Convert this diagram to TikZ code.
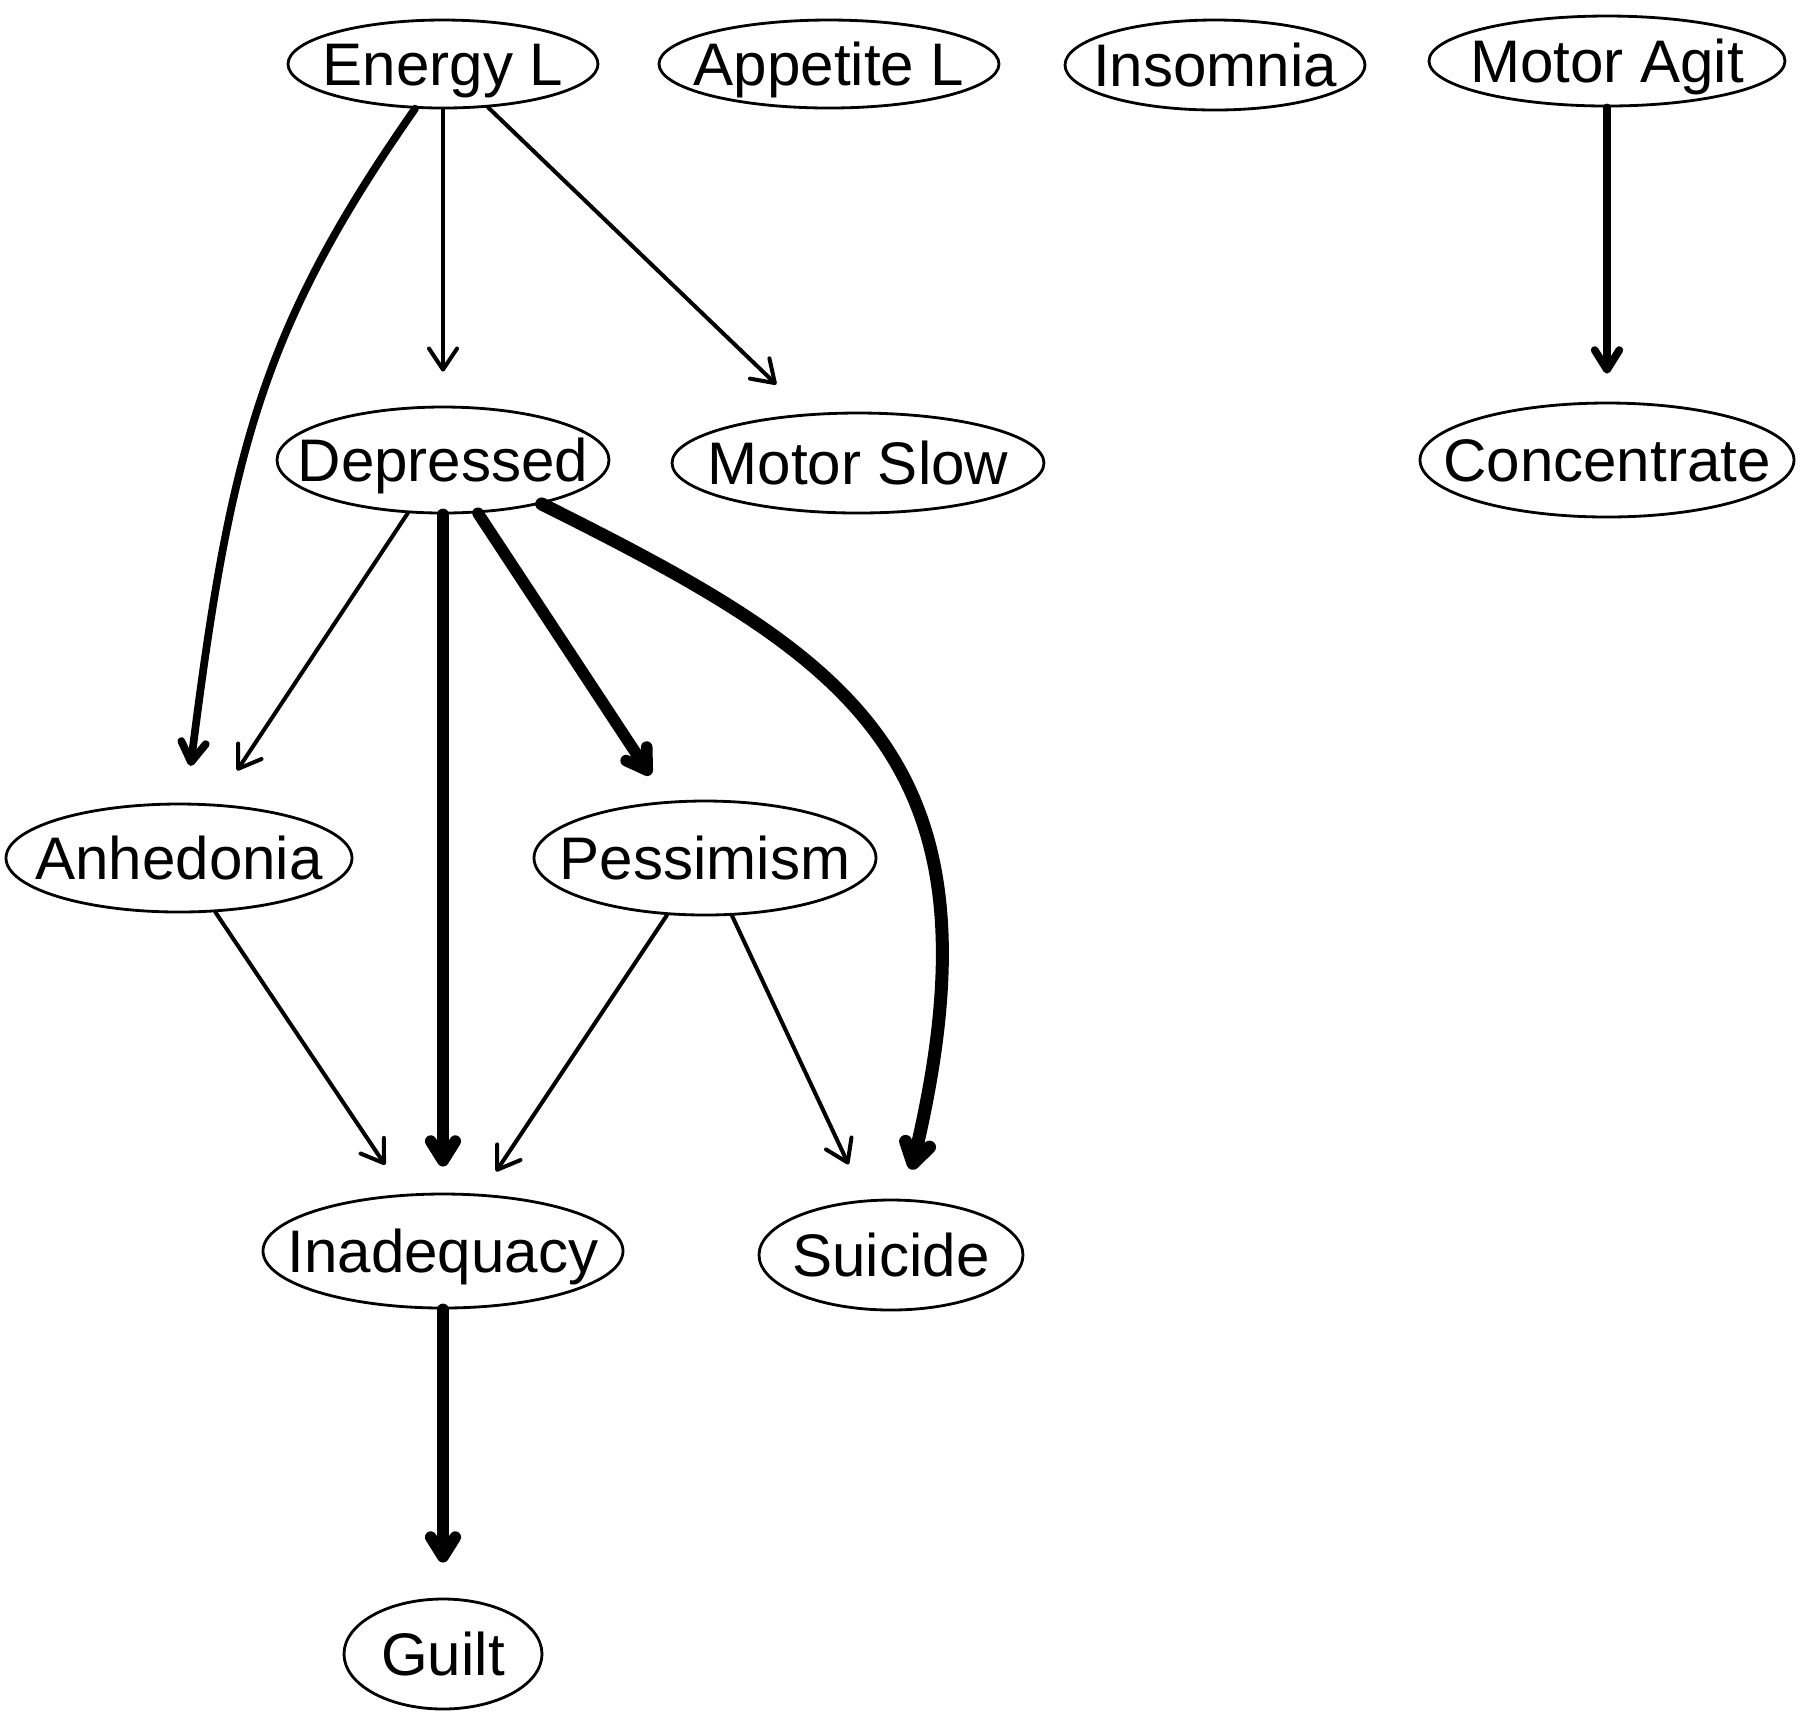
\documentclass[tikz,border=0pt]{standalone}
\usepackage{fontspec}
\setmainfont{Liberation Sans}
\usetikzlibrary{shapes.geometric,arrows.meta}
\tikzset{
  nd/.style={ellipse, draw, line width=0.8pt, inner sep=0pt,
    text height=12.2pt, text depth=0pt,
    font=\fontsize{17.1pt}{20pt}\selectfont},
  e1/.style={line width=1.14pt, line cap=round,
    -{Straight Barb[length=6pt,width=8pt,round]}},
  e2/.style={line width=2.2pt, line cap=round,
    -{Straight Barb[length=5.6pt,width=7pt,round]}},
  e3/.style={line width=3.3pt, line cap=round,
    -{Straight Barb[length=5.6pt,width=7pt,round]}},
  e4/.style={line width=3.7pt, line cap=round,
    -{Straight Barb[length=5.6pt,width=7pt,round]}}
}
\begin{document}
\begin{tikzpicture}
\path[use as bounding box] (0,0) rectangle (18,-17.19);
% nodes
\node[nd, minimum width=3.10cm, minimum height=0.88cm] (el) at (4.43,-0.64) {\makebox[0pt]{Energy L}};
\node[nd, minimum width=3.40cm, minimum height=0.88cm] (ap) at (8.29,-0.64) {\makebox[0pt]{Appetite L}};
\node[nd, minimum width=3.00cm, minimum height=0.90cm] (in) at (12.15,-0.65) {\makebox[0pt]{Insomnia}};
\node[nd, minimum width=3.56cm, minimum height=0.90cm] (ma) at (16.07,-0.61) {\makebox[0pt]{Motor Agit}};
\node[nd, minimum width=3.32cm, minimum height=1.06cm] (de) at (4.43,-4.60) {\makebox[0pt]{Depressed}};
\node[nd, minimum width=3.72cm, minimum height=1.00cm] (ms) at (8.58,-4.63) {\makebox[0pt]{Motor Slow}};
\node[nd, minimum width=3.74cm, minimum height=1.14cm] (co) at (16.07,-4.60) {\makebox[0pt]{Concentrate}};
\node[nd, minimum width=3.46cm, minimum height=1.08cm] (an) at (1.79,-8.58) {\makebox[0pt]{Anhedonia}};
\node[nd, minimum width=3.42cm, minimum height=1.14cm] (pe) at (7.05,-8.58) {\makebox[0pt]{Pessimism}};
\node[nd, minimum width=3.60cm, minimum height=1.14cm] (ia) at (4.43,-12.51) {\makebox[0pt]{Inadequacy}};
\node[nd, minimum width=2.64cm, minimum height=1.10cm] (su) at (8.91,-12.55) {\makebox[0pt]{Suicide}};
\node[nd, minimum width=1.98cm, minimum height=1.10cm] (gu) at (4.43,-16.54) {\makebox[0pt]{Guilt}};
% edges
\draw[e1, shorten >=0.34cm] (el) -- (de);
\draw[e1, shorten >=0.42cm] (el) -- (ms);
\draw[e2, shorten >=0.37cm] (el.-122) .. controls (2.61,-3.29) and (2.30,-4.53) .. (an);
\draw[e2, shorten >=0.28cm] (ma) -- (co);
\draw[e1, shorten >=0.40cm] (de) -- (an);
\draw[e3, shorten >=0.31cm] (de) -- (pe);
\draw[e3, shorten >=0.26cm] (de) -- (ia);
\draw[e4, shorten >=0.30cm] (de.-24) .. controls (8.54,-6.60) and (10.10,-7.59) .. (su);
\draw[e1, shorten >=0.35cm] (an) -- (ia);
\draw[e1, shorten >=0.27cm] (pe) -- (ia);
\draw[e1, shorten >=0.39cm] (pe) -- (su);
\draw[e3, shorten >=0.35cm] (ia) -- (gu);
\end{tikzpicture}
\end{document}
